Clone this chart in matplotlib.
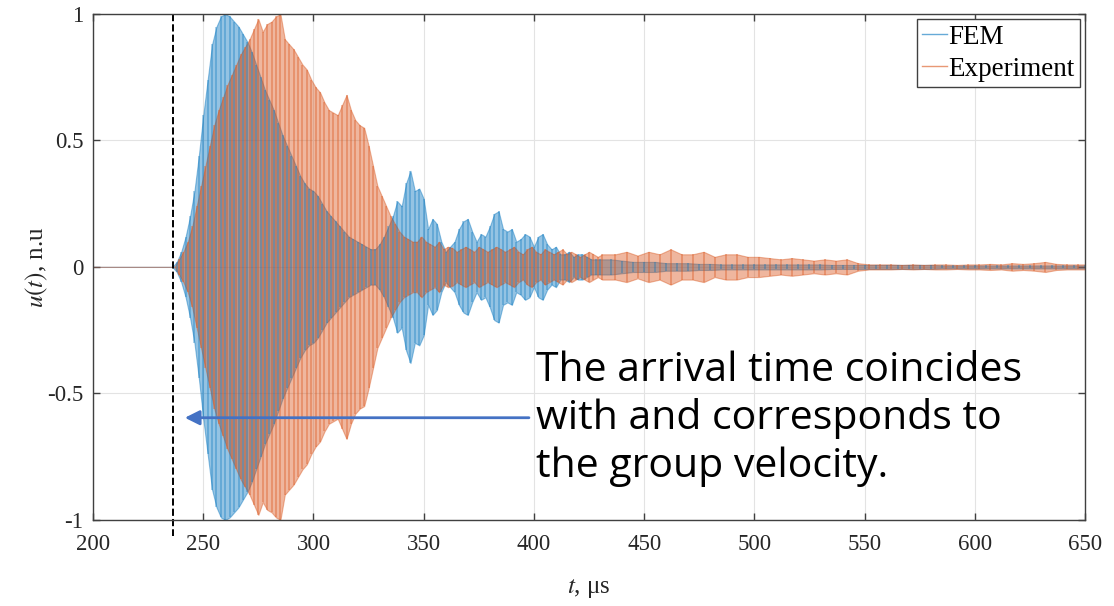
import numpy as np
import matplotlib.pyplot as plt

plt.rcParams['font.family'] = ['Liberation Serif', 'DejaVu Serif']
plt.rcParams['mathtext.fontset'] = 'stix'
plt.rcParams['axes.unicode_minus'] = False

# envelope of the signals (|u| peak, normalised)
# FEM: 236..430 us every 2 us, then 435..650 us every 5 us
# Experiment: read 1 us later on the dense part, 2 us later on the sparse part
t_fem = np.concatenate([[200], np.arange(236, 431, 2), np.arange(435, 651, 5)])
t_exp = np.concatenate([[200], np.arange(237, 432, 2), np.arange(437, 655, 5)])

fem_dense = [0.0, 0.02, 0.06, 0.12, 0.2, 0.3, 0.44, 0.6, 0.74, 0.88,
             0.95, 0.99, 1.0, 0.99, 0.97, 0.95, 0.92, 0.89, 0.85, 0.8,
             0.75, 0.7, 0.66, 0.62, 0.57, 0.52, 0.48, 0.44, 0.4, 0.36,
             0.33, 0.31, 0.3, 0.28, 0.25, 0.22, 0.2, 0.18, 0.16, 0.14,
             0.12, 0.11, 0.1, 0.09, 0.08, 0.07, 0.07, 0.09, 0.12, 0.16,
             0.2, 0.26, 0.24, 0.33, 0.38, 0.3, 0.31, 0.27, 0.15, 0.19,
             0.17, 0.1, 0.06, 0.08, 0.1, 0.15, 0.18, 0.19, 0.14, 0.1,
             0.13, 0.12, 0.16, 0.21, 0.22, 0.15, 0.14, 0.15, 0.1, 0.11,
             0.13, 0.12, 0.08, 0.12, 0.13, 0.09, 0.07, 0.08, 0.05, 0.05,
             0.06, 0.04, 0.05, 0.05, 0.04, 0.03, 0.03, 0.03]
fem_sparse = [0.03, 0.025, 0.02, 0.02, 0.02, 0.015, 0.015, 0.015, 0.012, 0.012,
              0.01, 0.01, 0.01, 0.01, 0.01, 0.01, 0.01, 0.01, 0.01, 0.01,
              0.008, 0.008, 0.008, 0.008, 0.008, 0.008, 0.008, 0.008, 0.008, 0.008,
              0.006, 0.006, 0.006, 0.006, 0.006, 0.006, 0.006, 0.006, 0.006, 0.006,
              0.006, 0.006, 0.006, 0.006]

exp_dense = [0.0, 0.03, 0.06, 0.1, 0.16, 0.24, 0.32, 0.4, 0.48, 0.56,
             0.62, 0.67, 0.72, 0.76, 0.8, 0.84, 0.87, 0.9, 0.94, 0.98,
             0.93, 0.96, 0.97, 0.99, 1.0, 0.9, 0.88, 0.86, 0.83, 0.8,
             0.78, 0.74, 0.71, 0.69, 0.65, 0.62, 0.61, 0.6, 0.64, 0.68,
             0.62, 0.58, 0.56, 0.55, 0.48, 0.4, 0.32, 0.28, 0.24, 0.2,
             0.17, 0.14, 0.12, 0.11, 0.1, 0.1, 0.12, 0.1, 0.09, 0.08,
             0.1, 0.07, 0.08, 0.075, 0.06, 0.07, 0.08, 0.07, 0.06, 0.08,
             0.07, 0.06, 0.07, 0.08, 0.07, 0.06, 0.07, 0.08, 0.06, 0.05,
             0.07, 0.08, 0.06, 0.05, 0.07, 0.06, 0.05, 0.06, 0.07, 0.05,
             0.06, 0.05, 0.04, 0.05, 0.06, 0.05, 0.04, 0.05]
exp_sparse = [0.05, 0.06, 0.045, 0.06, 0.05, 0.07, 0.05, 0.05, 0.06, 0.04,
              0.05, 0.05, 0.04, 0.04, 0.035, 0.03, 0.035, 0.03, 0.025, 0.03,
              0.025, 0.03, 0.015, 0.01, 0.01, 0.01, 0.008, 0.01, 0.008, 0.01,
              0.01, 0.008, 0.01, 0.01, 0.012, 0.01, 0.015, 0.012, 0.015, 0.02,
              0.012, 0.01, 0.01, 0.01]

fem_env = np.array([0.0] + fem_dense + fem_sparse)
exp_env = np.array([0.0] + exp_dense + exp_sparse)
assert len(fem_env) == len(t_fem) and len(exp_env) == len(t_exp)

x_ticks = [200, 250, 300, 350, 400, 450, 500, 550, 600, 650]
y_ticks = [-1, -0.5, 0, 0.5, 1]
y_tick_labels = ['-1', '-0.5', '0', '0.5', '1']

arrival_t = 236.3
note = 'The arrival time coincides\nwith and corresponds to\nthe group velocity.'

c_fem = '#0072BD'
c_exp = '#D95319'

fig = plt.figure(figsize=(11.14, 6.06), dpi=100)
ax = fig.add_axes([0.0835, 0.142, 0.8905, 0.835])

ax.fill_between(t_fem, -fem_env, fem_env, color=c_fem, alpha=0.42, lw=0.8)
ax.fill_between(t_exp, -exp_env, exp_env, color=c_exp, alpha=0.42, lw=0.8)
ax.vlines(t_fem, -fem_env, fem_env, color=c_fem, alpha=0.35, lw=1.3)
ax.vlines(t_exp, -exp_env, exp_env, color=c_exp, alpha=0.4, lw=1.3)

# legend proxies
ax.plot([], [], color=c_fem, alpha=0.6, lw=1, label='FEM')
ax.plot([], [], color=c_exp, alpha=0.6, lw=1, label='Experiment')

ax.set_xlim(200, 650)
ax.set_ylim(-1, 1)
ax.set_xticks(x_ticks)
ax.set_yticks(y_ticks)
ax.set_yticklabels(y_tick_labels)
ax.grid(True, color='#e3e3e3', lw=0.8)
ax.set_axisbelow(True)
ax.tick_params(direction='in', top=True, right=True, length=5, width=1,
               labelsize=16.5, colors='#404040', labelcolor='#262626')
ax.tick_params(axis='x', pad=10)
ax.tick_params(axis='y', pad=7)
for s in ax.spines.values():
    s.set_color('#404040')
    s.set_linewidth(1)

ax.set_xlabel('$t$, μs', fontsize=18, color='#262626', labelpad=16)
ax.set_ylabel('$u(t)$, n.u', fontsize=18, color='#262626', labelpad=-2)

leg = ax.legend(loc='upper right', fontsize=19.5, handlelength=0.9, handletextpad=0.05,
                borderpad=0.2, borderaxespad=0.2, labelspacing=0.25, fancybox=False,
                framealpha=1)
leg.get_frame().set_edgecolor('#404040')
leg.get_frame().set_linewidth(1)

# dashed arrival line, runs a bit below the axes
ax.plot([arrival_t, arrival_t], [1.0, -1.063], color='black', ls='--', lw=1.4,
        clip_on=False)
ax.annotate('', xy=(240.4, -0.596), xytext=(399, -0.596),
            arrowprops=dict(arrowstyle='-|>', color='#4472C4', lw=2,
                            mutation_scale=22))
ax.text(401, -0.6, note, fontsize=29.5, family=['Open Sans', 'DejaVu Sans'],
        va='center', ha='left', linespacing=1.25, color='black')

fig.savefig('out.png', dpi=100)
